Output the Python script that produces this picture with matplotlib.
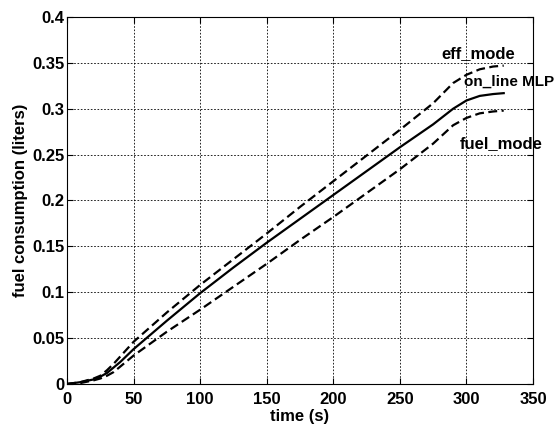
import matplotlib.pyplot as plt
import numpy as np

plt.rcParams['font.family'] = ['Liberation Sans', 'DejaVu Sans']
plt.rcParams['font.weight'] = 'bold'

# time samples (s)
time_s = [0, 10, 20, 25, 30, 35, 40, 50, 75, 100, 125, 150, 175, 200,
          225, 250, 275, 290, 300, 310, 320, 328]

# fuel consumption (liters)
eff_mode = [0, 0.002, 0.006, 0.009, 0.015, 0.022, 0.030, 0.046, 0.078, 0.108,
            0.136, 0.164, 0.193, 0.221, 0.249, 0.277, 0.306, 0.328, 0.337,
            0.343, 0.346, 0.347]
online_mlp = [0, 0.002, 0.005, 0.008, 0.012, 0.018, 0.024, 0.038, 0.069, 0.099,
              0.127, 0.154, 0.180, 0.206, 0.232, 0.258, 0.283, 0.300, 0.309,
              0.314, 0.316, 0.317]
fuel_mode = [0, 0.001, 0.004, 0.006, 0.009, 0.013, 0.019, 0.031, 0.057, 0.081,
             0.106, 0.131, 0.157, 0.182, 0.208, 0.234, 0.262, 0.282, 0.290,
             0.295, 0.297, 0.298]

fig = plt.figure(figsize=(5.59, 4.28), dpi=100)
ax = fig.add_axes([0.1199, 0.1028, 0.8336, 0.8575])

dash = (0, (4, 2))
ax.plot(time_s, eff_mode, color='k', lw=1.6, linestyle=dash)
ax.plot(time_s, online_mlp, color='k', lw=1.6)
ax.plot(time_s, fuel_mode, color='k', lw=1.6, linestyle=dash)

fs = 12
ax.text(281, 0.360, 'eff_mode', fontsize=fs, fontweight='bold', va='center')
ax.text(298.5, 0.329, 'on_line MLP', fontsize=11, fontweight='bold', va='center')
ax.text(295, 0.262, 'fuel_mode', fontsize=fs, fontweight='bold', va='center')

ax.set_xlim(0, 350)
ax.set_ylim(0, 0.4)
ax.set_xticks(np.arange(0, 351, 50))
ax.set_yticks(np.arange(0, 0.401, 0.05))
ax.set_yticklabels(['0', '0.05', '0.1', '0.15', '0.2', '0.25', '0.3', '0.35', '0.4'])
ax.tick_params(direction='in', length=4, labelsize=fs, width=0.8,
               top=True, right=True)
ax.tick_params(axis='x', pad=6)
ax.tick_params(axis='y', pad=2)
for lab in ax.get_xticklabels() + ax.get_yticklabels():
    lab.set_fontweight('bold')

ax.grid(True, color='k', linestyle=(0, (2, 2)), linewidth=0.6)
for sp in ax.spines.values():
    sp.set_linewidth(0.8)

ax.set_xlabel('time (s)', fontsize=fs, fontweight='bold', labelpad=1)
ax.set_ylabel('fuel consumption (liters)', fontsize=fs, fontweight='bold', labelpad=3)

fig.savefig('out.png', dpi=100)
